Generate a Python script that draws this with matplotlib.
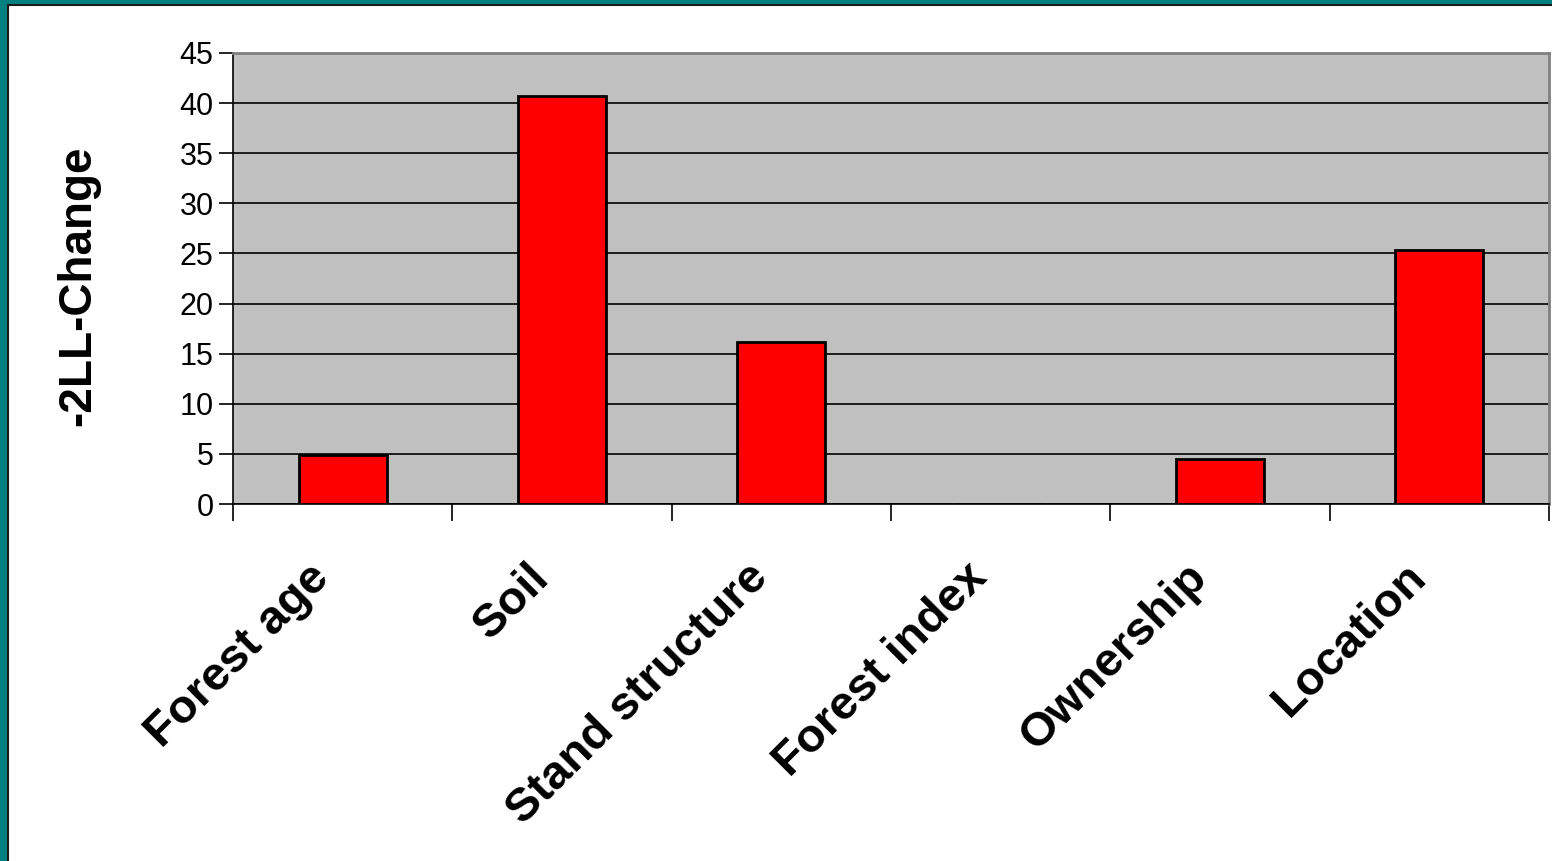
import matplotlib.pyplot as plt
from matplotlib.patches import Rectangle
from matplotlib.transforms import ScaledTranslation
import numpy as np

plt.rcParams['font.family'] = ['Liberation Sans', 'DejaVu Sans']

# -2LL change per factor group
factors = ['Forest age', 'Soil', 'Stand structure', 'Forest index', 'Ownership', 'Location']
ll_change = [4.9, 40.7, 16.2, 0.0, 4.5, 25.3]
y_ticks = [0, 5, 10, 15, 20, 25, 30, 35, 40, 45]

fig = plt.figure(figsize=(15.52, 8.61), dpi=100, facecolor='#008080')

# white slide area with dark rim
fig.patches.append(Rectangle((8 / 1552, -0.05), 1.0, 0.05 + (861 - 4.5) / 861, transform=fig.transFigure,
                             facecolor='white', edgecolor='#1a1a1a', linewidth=1.5, zorder=-10))

ax = fig.add_axes([233 / 1552, 1 - 504 / 861, (1549 - 233) / 1552, (504 - 53) / 861])
ax.set_facecolor('#C0C0C0')

x = np.arange(len(factors))
ax.bar(x, ll_change, width=0.4, color='#FF0000', edgecolor='black', linewidth=2, zorder=3)

ax.set_xlim(-0.5, len(factors) - 0.5)
ax.set_ylim(0, 45)
ax.set_yticks(y_ticks)
ax.set_yticklabels([str(v) for v in y_ticks], fontsize=22)
ax.yaxis.grid(True, color='black', linewidth=1.2, zorder=1)
ax.set_axisbelow(True)

# category labels sit between boundary ticks
ax.set_xticks(x)
ax.set_xticklabels(factors, rotation=45, ha='right', va='center', rotation_mode='anchor',
                   fontsize=34, fontweight='bold')
ax.tick_params(axis='x', length=0, pad=38)
shift = ScaledTranslation(-20 / 100, -14 / 100, fig.dpi_scale_trans)
for lbl in ax.get_xticklabels():
    lbl.set_transform(lbl.get_transform() + shift)
ax.set_xticks(np.arange(len(factors) + 1) - 0.5, minor=True)
ax.tick_params(axis='x', which='minor', length=12, width=1.2, color='black', direction='out')
ax.tick_params(axis='y', length=10, width=1.2, color='black', direction='out', pad=4)

ax.spines['left'].set_color('black')
ax.spines['left'].set_linewidth(1.2)
ax.spines['bottom'].set_color('black')
ax.spines['bottom'].set_linewidth(1.2)
ax.spines['top'].set_color('#808080')
ax.spines['top'].set_linewidth(2)
ax.spines['right'].set_color('#808080')
ax.spines['right'].set_linewidth(2)

ax.set_ylabel('-2LL-Change', fontsize=33, fontweight='bold')
ax.yaxis.set_label_coords(-(233 - 100) / (1549 - 233), 0.483)

fig.savefig('out.png', dpi=100, facecolor=fig.get_facecolor())
